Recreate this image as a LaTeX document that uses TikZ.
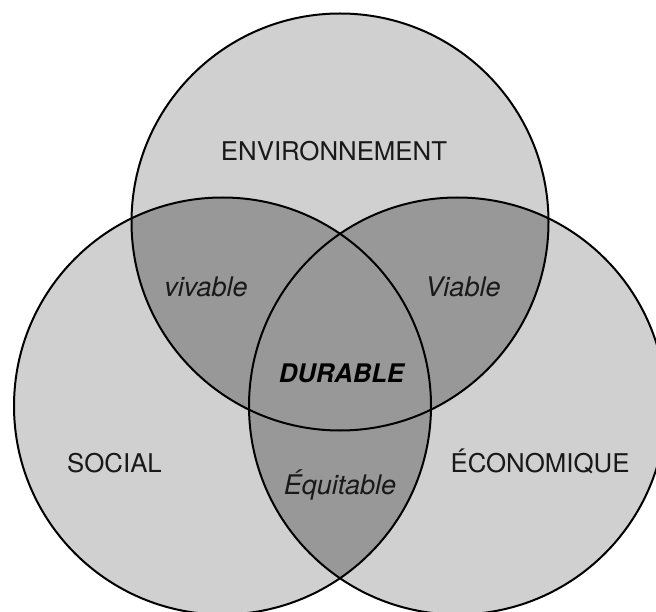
\documentclass[tikz,border=0pt]{standalone}
\usepackage{fontspec}
\setmainfont{TeX Gyre Heros}
\definecolor{vennlight}{RGB}{208,208,208}
\definecolor{venndark}{RGB}{152,152,152}
\definecolor{venntext}{RGB}{25,25,25}
\newcommand{\vennradius}{208.5}

\tikzset{every picture/.style={line width=2pt}}
\tikzset{
	pole/.style={anchor=base, text=venntext, font=\fontsize{25.8}{30}\selectfont},
	overlap/.style={anchor=base, text=venntext, font=\fontsize{27}{32}\selectfont\itshape},
	core/.style={anchor=base, text=black, font=\fontsize{25.6}{30}\selectfont\bfseries\itshape},
}

\begin{document}
\begin{tikzpicture}[x=1pt,y=1pt,yscale=-1,xscale=1]
	\useasboundingbox (0,0) rectangle (656,612);
	\clip (0,0) rectangle (656,612);

	%Circle centres
	\coordinate (env) at (340,222);
	\coordinate (soc) at (222.5,406);
	\coordinate (eco) at (457.5,406);

	%Shape: Circle fills
	\fill [vennlight] (env) circle [radius=\vennradius] (soc) circle [radius=\vennradius] (eco) circle [radius=\vennradius];
	%Overlaps with the top circle
	\begin{scope}
		\clip (env) circle [radius=\vennradius];
		\fill [venndark] (soc) circle [radius=\vennradius] (eco) circle [radius=\vennradius];
	\end{scope}
	%Overlap of the two lower circles
	\begin{scope}
		\clip (soc) circle [radius=\vennradius];
		\fill [venndark] (eco) circle [radius=\vennradius];
	\end{scope}

	%Shape: Circle outlines
	\draw (env) circle [radius=\vennradius];
	\draw (soc) circle [radius=\vennradius];
	\draw (eco) circle [radius=\vennradius];

	% Text Node
	\node [pole] (environnement) at (334,161) {ENVIRONNEMENT};
	% Text Node
	\node [pole] (social) at (114.5,472) {SOCIAL};
	% Text Node
	\node [pole] (economique) at (540,472) {ÉCONOMIQUE};
	% Text Node
	\node [overlap] (vivable) at (206,297) {vivable};
	% Text Node
	\node [overlap] (viable) at (463,297) {Viable};
	% Text Node
	\node [core] (durable) at (341.5,382) {DURABLE};
	% Text Node
	\node [overlap] (equitable) at (340,494) {Équitable};

\end{tikzpicture}
\end{document}
